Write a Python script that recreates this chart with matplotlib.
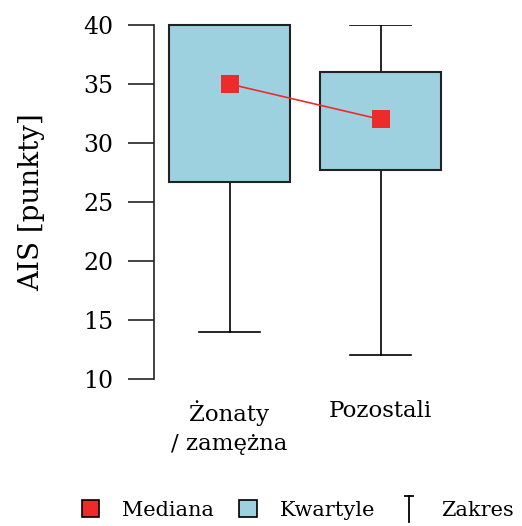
import matplotlib.pyplot as plt
from matplotlib.patches import Rectangle
from matplotlib.lines import Line2D
from matplotlib.legend_handler import HandlerBase

plt.rcParams['font.family'] = ['DejaVu Serif']

groups = ['Żonaty\n/ zamężna', 'Pozostali']
q_min = [14, 12]
q1 = [26.7, 27.7]
median = [35, 32]
q3 = [40, 36]
q_max = [40, 40]

box_fill = '#9ed1df'
med_color = '#ee2b2b'


class WhiskerHandler(HandlerBase):
    # small "T" glyph standing for the min-max range
    def create_artists(self, legend, orig_handle, xdescent, ydescent,
                       width, height, fontsize, trans):
        cx = width / 2 - xdescent
        top = height * 1.2
        stem = Line2D([cx, cx], [-height * 0.35, top], color='black', lw=1.3, transform=trans)
        cap = Line2D([cx - width * 0.2, cx + width * 0.2], [top, top], color='black', lw=1.3, transform=trans)
        return [stem, cap]


fig = plt.figure(figsize=(5.22, 5.26), dpi=100)
ax = fig.add_axes([154 / 522, 1 - 379 / 526, (456 - 154) / 522, (379 - 25) / 526])

pos = [1, 2]
box_w = 0.8
cap_w = 0.4
for x, lo, a, b, hi in zip(pos, q_min, q1, q3, q_max):
    ax.plot([x, x], [lo, a], color='black', lw=1.2, zorder=1)
    ax.plot([x, x], [b, hi], color='black', lw=1.2, zorder=1)
    ax.plot([x - cap_w / 2, x + cap_w / 2], [lo, lo], color='black', lw=1.2, zorder=1)
    ax.plot([x - cap_w / 2, x + cap_w / 2], [hi, hi], color='black', lw=1.2, zorder=1)
    ax.add_patch(Rectangle((x - box_w / 2, a), box_w, b - a, facecolor=box_fill,
                           edgecolor='#222222', lw=1.5, zorder=2, clip_on=False))

ax.plot(pos, median, color=med_color, lw=1.2, zorder=3, clip_on=False)
ax.plot(pos, median, 's', color=med_color, ms=13, mew=0, zorder=4, clip_on=False)

ax.set_xlim(0.5, 2.5)
ax.set_ylim(10, 40)
ax.set_yticks([10, 15, 20, 25, 30, 35, 40])
ax.set_xticks(pos)
ax.set_xticklabels(groups, fontsize=16.5, linespacing=1.45, va='top')
ax.tick_params(axis='x', length=0, pad=15)
ax.tick_params(axis='y', length=19, width=1.2, labelsize=17, pad=10, color='#222222')
for s in ['top', 'right', 'bottom']:
    ax.spines[s].set_visible(False)
ax.spines['left'].set_linewidth(1.2)
ax.spines['left'].set_color('#222222')
ax.set_ylabel('AIS [punkty]', fontsize=20, labelpad=28)

handles = [
    Rectangle((0, 0), 1, 1, facecolor=med_color, edgecolor='black', lw=1.2),
    Rectangle((0, 0), 1, 1, facecolor=box_fill, edgecolor='black', lw=1.2),
    Line2D([], [], color='black'),
]
fig.legend(handles, ['Mediana', 'Kwartyle', 'Zakres'],
           handler_map={handles[2]: WhiskerHandler()},
           loc='lower center', bbox_to_anchor=(0.57, -0.02), ncol=3, frameon=False,
           fontsize=15, handlelength=0.85, handleheight=0.85, handletextpad=1.1,
           columnspacing=1.2, borderpad=0.3)

fig.savefig('out.png', dpi=100)
